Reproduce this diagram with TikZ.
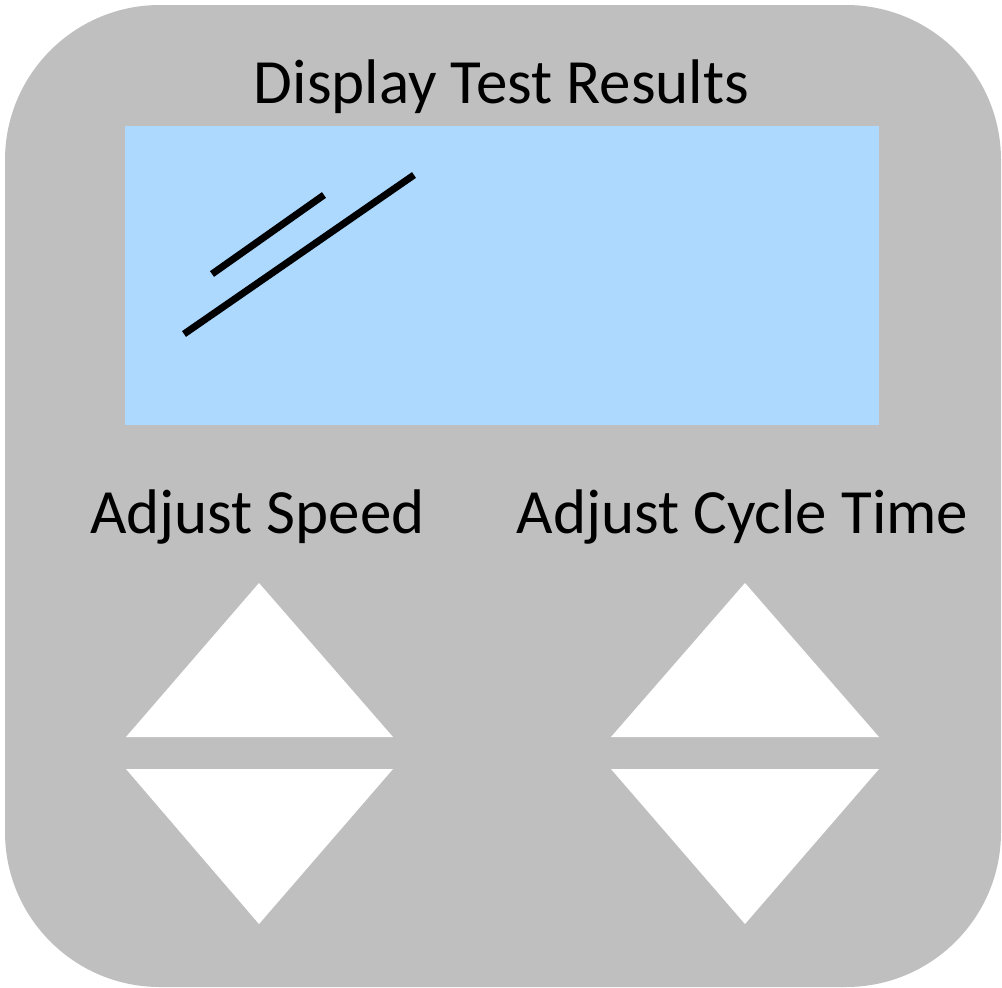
\documentclass[tikz,border=0pt]{standalone}
\usepackage{fontspec}
\setmainfont{Carlito}
\definecolor{panelgray}{RGB}{191,191,191}
\definecolor{screenblue}{RGB}{173,217,255}
\tikzset{
  panel/.style={fill=panelgray, draw=none, rounded corners=155pt},
  screen/.style={fill=screenblue, draw=none},
  glare/.style={line width=7pt, black, line cap=butt},
  key/.style={fill=white, draw=none},
  title/.style={anchor=base, inner sep=0pt, font=\fontsize{63}{70}\selectfont},
  label/.style={anchor=base, inner sep=0pt, font=\fontsize{63}{70}\selectfont}
}
\begin{document}
\begin{tikzpicture}[x=1pt,y=-1pt]
\useasboundingbox (0,0) rectangle (1002,988);
\fill[white] (0,0) rectangle (1002,988);
\path[panel] (5,5) rectangle (1001,987);
\path[screen] (125,126) rectangle (879,425);
\draw[glare] (212,274) -- (324,195);
\draw[glare] (184,334) -- (414,175);
\node[title] (t) at (501.5,103) {Display Test Results};
\node[label] (ls) at (257.5,533) {Adjust Speed};
\node[label] (lc) at (742.5,533) {Adjust Cycle Time};
\path[key] (126,737) -- (259,583) -- (393,737) -- cycle;
\path[key] (126,769) -- (259,924) -- (393,769) -- cycle;
\path[key] (611,737) -- (745,583) -- (879,737) -- cycle;
\path[key] (611,769) -- (745,924) -- (879,769) -- cycle;
\end{tikzpicture}
\end{document}
